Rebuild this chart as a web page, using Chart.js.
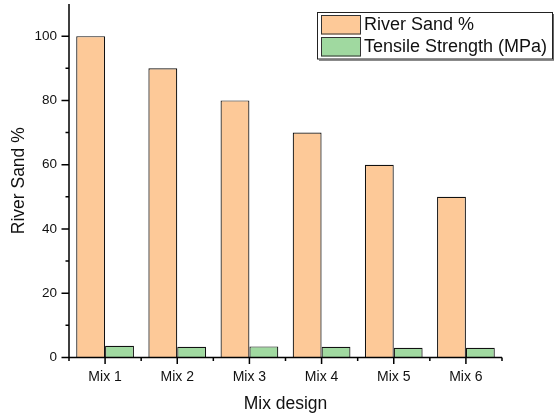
<!DOCTYPE html>
<html>
<head>
<meta charset="utf-8">
<script src="https://cdn.jsdelivr.net/npm/chart.js@4/dist/chart.umd.min.js"></script>
<style>
  html, body { margin: 0; padding: 0; background: #fff; }
  #wrap { width: 554px; height: 416px; }
</style>
</head>
<body>
<div id="wrap"><canvas id="c" width="554" height="416"></canvas></div>
<script>
// Mix designs and their measured values
const mixes = ['Mix 1', 'Mix 2', 'Mix 3', 'Mix 4', 'Mix 5', 'Mix 6'];
const riverSand = [100, 90, 80, 70, 60, 50];
const tensileStrength = [3.65, 3.35, 3.45, 3.35, 3.05, 3.05];
const yTickValues = [0, 20, 40, 60, 80, 100];
const yMinorValues = [10, 30, 50, 70, 90];

const FONT = '"Liberation Sans", Arial, sans-serif';
const INK = '#111';

// Origin-style axes: left and bottom lines with outward major/minor ticks
const axesPlugin = {
  id: 'originAxes',
  afterDatasetsDraw(chart) {
    const { ctx, chartArea: a, scales: { x, y } } = chart;
    ctx.save();
    ctx.strokeStyle = '#000';
    ctx.lineWidth = 1.5;
    ctx.beginPath();
    // axis lines
    ctx.moveTo(a.left, a.top);
    ctx.lineTo(a.left, a.bottom);
    ctx.moveTo(a.left, a.bottom);
    ctx.lineTo(a.right, a.bottom);
    // y major / minor ticks
    yTickValues.forEach(v => {
      const py = y.getPixelForValue(v);
      ctx.moveTo(a.left - 7.5, py);
      ctx.lineTo(a.left, py);
    });
    yMinorValues.forEach(v => {
      const py = y.getPixelForValue(v);
      ctx.moveTo(a.left - 3.5, py);
      ctx.lineTo(a.left, py);
    });
    // x major ticks at category centres, minor at category boundaries
    const n = mixes.length;
    const step = (a.right - a.left) / n;
    mixes.forEach((m, i) => {
      const px = x.getPixelForValue(i);
      ctx.moveTo(px, a.bottom);
      ctx.lineTo(px, a.bottom + 6.5);
    });
    for (let i = 0; i <= n; i++) {
      const px = a.left + step * i;
      ctx.moveTo(px, a.bottom);
      ctx.lineTo(px, a.bottom + 3.5);
    }
    ctx.stroke();
    ctx.restore();
  }
};

// Boxed legend in the upper-right corner
const boxLegend = {
  id: 'boxLegend',
  afterDraw(chart) {
    const { ctx } = chart;
    const left = 317, top = 12, w = 235, h = 46.5;
    ctx.save();
    ctx.fillStyle = '#fff';
    ctx.fillRect(left, top, w, h);
    ctx.strokeStyle = '#222';
    ctx.lineWidth = 1;
    ctx.strokeRect(left + 0.5, top + 0.5, w, h);
    // slight shadow on right and bottom edges
    ctx.strokeStyle = '#666';
    ctx.lineWidth = 1.2;
    ctx.beginPath();
    ctx.moveTo(left + w + 1.6, top + 2);
    ctx.lineTo(left + w + 1.6, top + h + 1.6);
    ctx.lineTo(left + 2, top + h + 1.6);
    ctx.stroke();
    ctx.font = '18px ' + FONT;
    ctx.textBaseline = 'middle';
    ctx.textAlign = 'left';
    chart.data.datasets.forEach((ds, i) => {
      const sy = 15 + i * 22;
      ctx.fillStyle = ds.backgroundColor;
      ctx.fillRect(321, sy, 40, 19.5);
      ctx.strokeStyle = '#333';
      ctx.lineWidth = 1;
      ctx.strokeRect(321.5, sy + 0.5, 39, 18.5);
      ctx.fillStyle = INK;
      ctx.fillText(ds.label, 364, sy + 10.5);
    });
    ctx.restore();
  }
};

new Chart(document.getElementById('c'), {
  type: 'bar',
  data: {
    labels: mixes,
    datasets: [
      {
        label: 'River Sand %',
        data: riverSand,
        backgroundColor: '#FDC998',
        borderColor: '#111',
        borderWidth: 1.2,
        borderSkipped: 'bottom'
      },
      {
        label: 'Tensile Strength (MPa)',
        data: tensileStrength,
        backgroundColor: '#A0D9A0',
        borderColor: '#111',
        borderWidth: 1.2,
        borderSkipped: 'bottom'
      }
    ]
  },
  options: {
    responsive: false,
    animation: false,
    layout: { padding: { left: 0, top: 4, right: 52, bottom: 0 } },
    datasets: { bar: { categoryPercentage: 0.8, barPercentage: 1.0 } },
    plugins: {
      legend: { display: false },
      tooltip: { enabled: false }
    },
    scales: {
      x: {
        grid: { display: false, drawTicks: false },
        border: { display: false },
        ticks: {
          color: INK,
          font: { family: FONT, size: 14 },
          padding: 11,
          maxRotation: 0
        },
        title: {
          display: true,
          text: 'Mix design',
          color: INK,
          font: { family: FONT, size: 17.5, lineHeight: 1 },
          padding: { top: 0, bottom: 3 }
        },
        afterFit(scale) {
          scale.height = 58.5;
          scale.paddingLeft = 0;
          scale.paddingRight = 0;
        }
      },
      y: {
        min: 0,
        max: 110,
        grid: { display: false, drawTicks: false },
        border: { display: false },
        afterBuildTicks(scale) {
          scale.ticks = yTickValues.map(v => ({ value: v }));
        },
        ticks: {
          color: INK,
          font: { family: FONT, size: 13.5 },
          padding: 12
        },
        title: {
          display: true,
          text: 'River Sand %',
          color: INK,
          font: { family: FONT, size: 17.5, lineHeight: 1 },
          padding: { top: 10.5, bottom: 0 }
        },
        afterFit(scale) {
          scale.width = 69;
          scale.paddingTop = 0;
          scale.paddingBottom = 0;
        }
      }
    }
  },
  plugins: [axesPlugin, boxLegend]
});
</script>
</body>
</html>
